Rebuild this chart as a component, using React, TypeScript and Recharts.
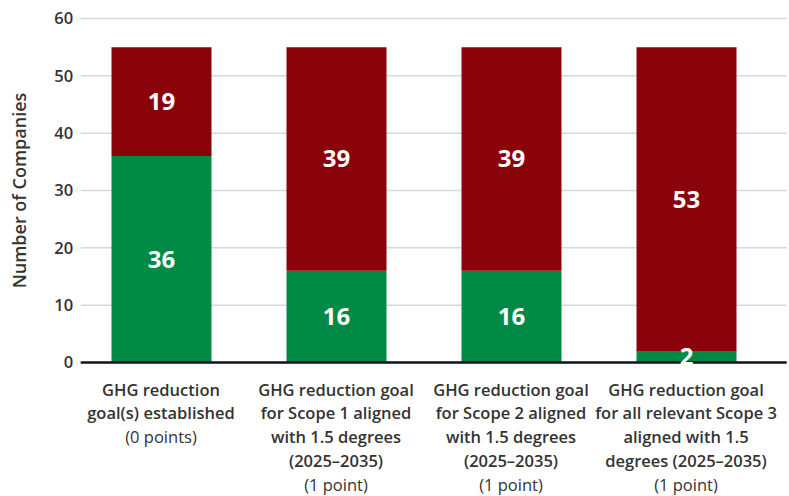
import { Bar, BarChart, CartesianGrid, LabelList, XAxis, YAxis } from 'recharts';

const categories = ['scope-any', 'scope-1', 'scope-2', 'scope-3'];
const titleLines = [
  ['GHG reduction', 'goal(s) established'],
  ['GHG reduction goal', 'for Scope 1 aligned', 'with 1.5 degrees', '(2025–2035)'],
  ['GHG reduction goal', 'for Scope 2 aligned', 'with 1.5 degrees', '(2025–2035)'],
  ['GHG reduction goal', 'for all relevant Scope 3', 'aligned with 1.5', 'degrees (2025–2035)'],
];
const pointLabels = ['(0 points)', '(1 point)', '(1 point)', '(1 point)'];
const yesValues = [36, 16, 16, 2];
const noValues = [19, 39, 39, 53];
const yTicks = [0, 10, 20, 30, 40, 50, 60];

const data = categories.map((key, i) => ({
  key,
  yes: yesValues[i],
  no: noValues[i],
}));

const FONT = '"Open Sans", "Noto Sans", sans-serif';
const GREEN = '#018a45';
const RED = '#8b030a';

function CategoryTick(props: any) {
  const { x, y, payload } = props;
  const i = categories.indexOf(payload.value);
  const lines = titleLines[i] || [];
  return (
    <g transform={`translate(${x},${y})`}>
      <text textAnchor="middle" fontFamily={FONT} fontSize={16.5} fill="#333">
        {lines.map((line, j) => (
          <tspan key={j} x={0} y={33 + j * 23.9} fontWeight={600}>
            {line}
          </tspan>
        ))}
        <tspan x={0} y={33 + lines.length * 23.9} fontWeight={400}>
          {pointLabels[i]}
        </tspan>
      </text>
    </g>
  );
}

export default function App() {
  return (
    <div style={{ position: 'absolute', left: 0, top: 0, width: 789, height: 496, background: '#fff' }}>
      <BarChart
        width={789}
        height={496}
        data={data}
        margin={{ top: 18.5, right: 2.3, bottom: 0, left: 0 }}
      >
        <CartesianGrid vertical={false} stroke="#d8d8d8" strokeWidth={1.5} />
        <XAxis
          dataKey="key"
          height={133.5}
          padding={{ left: -7.2, right: 13.2 }}
          tickLine={false}
          tickSize={0}
          tickMargin={0}
          axisLine={{ stroke: '#11141c', strokeWidth: 2.5 }}
          tick={<CategoryTick />}
          interval={0}
        />
        <YAxis
          width={80.7}
          domain={[0, 60]}
          ticks={yTicks}
          axisLine={false}
          tickLine={false}
          tickSize={0}
          tickMargin={7.5}
          tick={{ fill: '#333', fontSize: 16.5, fontWeight: 600, fontFamily: FONT }}
          label={{
            value: 'Number of Companies',
            angle: -90,
            position: 'insideLeft',
            offset: 20,
            style: { textAnchor: 'middle', fill: '#333', fontSize: 18, fontWeight: 600, fontFamily: FONT },
          }}
        />
        <Bar dataKey="yes" stackId="a" fill={GREEN} barSize={100} isAnimationActive={false}>
          <LabelList dataKey="yes" position="center" fill="#fff" fontSize={24} fontWeight={700} fontFamily={FONT} />
        </Bar>
        <Bar dataKey="no" stackId="a" fill={RED} barSize={100} isAnimationActive={false}>
          <LabelList dataKey="no" position="center" fill="#fff" fontSize={24} fontWeight={700} fontFamily={FONT} />
        </Bar>
      </BarChart>
    </div>
  );
}
